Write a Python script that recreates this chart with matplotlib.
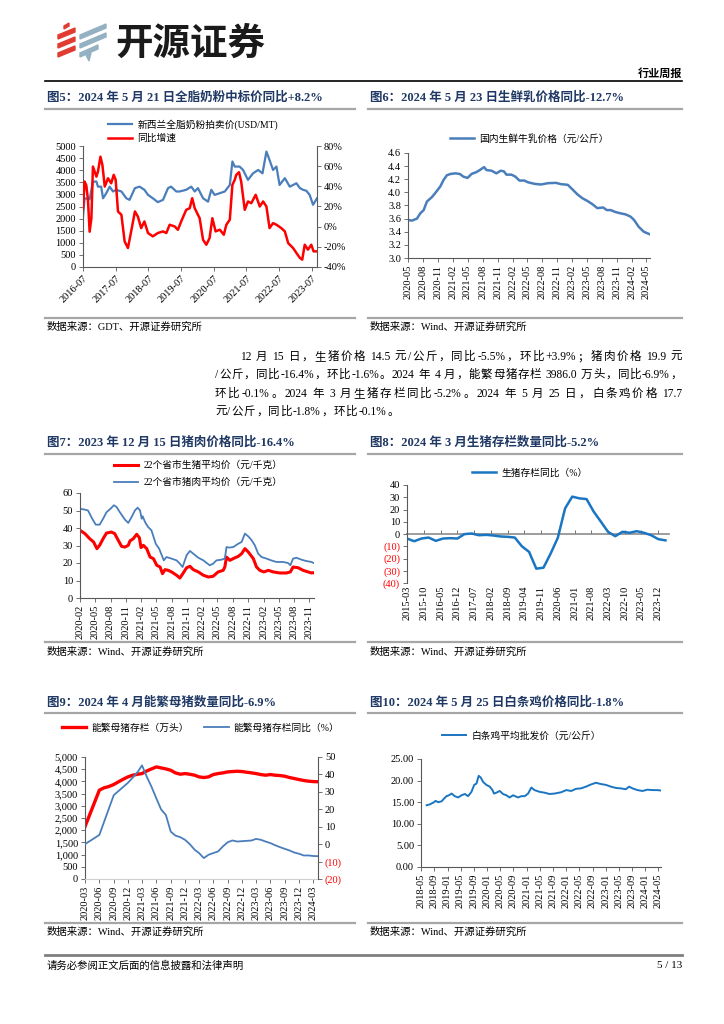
import re
import matplotlib
matplotlib.use('Agg')
import matplotlib.pyplot as plt
import matplotlib.dates as mdates
from matplotlib.lines import Line2D
from matplotlib.patches import Polygon
from matplotlib.ticker import NullFormatter
import pandas as pd

# ---------------- data ----------------
# fig5: GDT whole milk powder price (USD/MT) and YoY (%)
gdt_dates = ['2016-07-01', '2016-07-19', '2016-09-13', '2016-10-20', '2016-11-28', '2016-12-15',
             '2017-01-20', '2017-02-10', '2017-03-18', '2017-04-25', '2017-06-01', '2017-07-06',
             '2017-09-03', '2017-10-28', '2017-12-03', '2018-02-01', '2018-03-25', '2018-05-18',
             '2018-06-27', '2018-08-20', '2018-10-15', '2018-12-12', '2019-02-06', '2019-03-12',
             '2019-05-09', '2019-06-15', '2019-08-28', '2019-10-24', '2019-12-01', '2020-01-06',
             '2020-03-03', '2020-04-28', '2020-06-03', '2020-07-10', '2020-09-06', '2020-11-01',
             '2020-12-27', '2021-01-25', '2021-02-20', '2021-04-15', '2021-05-24', '2021-07-18',
             '2021-09-12', '2021-11-09', '2021-12-27', '2022-02-09', '2022-03-16', '2022-04-24',
             '2022-06-01', '2022-07-06', '2022-09-03', '2022-10-28', '2023-01-10', '2023-02-18',
             '2023-03-25', '2023-05-01', '2023-06-07', '2023-07-15', '2023-08-28']
gdt_price = [2090, 2840, 2800, 3530, 3530, 3320, 3320, 2840, 3050, 3320, 3120, 3190, 3120, 2840,
             2775, 3260, 3320, 3190, 2980, 2840, 2680, 2775, 3260, 3320, 3120, 3120, 3190, 3320,
             3120, 3260, 2840, 2700, 3190, 2980, 3050, 3120, 3390, 4360, 4150, 4150, 4010, 3600,
             3870, 4010, 3870, 4770, 4420, 4010, 4150, 3390, 3670, 3320, 3460, 3260, 3190, 3150,
             2980, 2570, 2840]
yoy_dates = ['2016-07-01', '2016-07-19', '2016-08-07', '2016-08-25', '2016-09-13', '2016-10-03',
             '2016-10-20', '2016-11-28', '2016-12-15', '2017-01-12', '2017-02-03', '2017-03-01',
             '2017-04-06', '2017-05-12', '2017-06-09', '2017-07-01', '2017-07-27', '2017-09-03',
             '2017-10-09', '2017-11-15', '2017-12-21', '2018-02-01', '2018-03-06', '2018-04-12',
             '2018-05-18', '2018-06-27', '2018-08-20', '2018-10-15', '2018-12-12', '2019-01-18',
             '2019-02-24', '2019-04-21', '2019-05-27', '2019-07-03', '2019-08-28', '2019-10-06',
             '2019-11-03', '2019-12-01', '2020-01-25', '2020-03-03', '2020-04-09', '2020-05-15',
             '2020-06-15', '2020-07-21', '2020-09-06', '2020-10-21', '2020-11-18', '2020-12-27',
             '2021-01-25', '2021-02-20', '2021-03-09', '2021-04-09', '2021-05-03', '2021-06-12',
             '2021-07-18', '2021-08-24', '2021-10-12', '2021-11-27', '2022-01-03', '2022-02-09',
             '2022-03-16', '2022-04-24', '2022-06-01', '2022-07-25', '2022-09-03', '2022-10-10',
             '2022-12-04', '2023-01-10', '2023-02-18', '2023-03-16', '2023-04-13', '2023-05-19',
             '2023-06-25', '2023-07-21', '2023-08-28']
gdt_yoy = [18, 44.7, 41, 27, -5, 8.5, 59.6, 49.6, 54.6, 69.4, 61, 39.8, 48, 43, 51.4, 46.4, 15,
           11.8, -14.6, -21.2, -4.7, 15.1, 10, -1.4, 5.2, -6.3, -9.6, -6.3, -4.7, -6.3, 1.9, 0.2,
           -3.1, 5.2, 16.7, 18.3, 28.2, 18.3, 8.4, -13, -17.9, -11.3, 8.4, -4.7, -3, -8, 1.9, 6.9,
           41.5, 46.4, 51.4, 54, 44.7, 16.7, 25, 23.3, 31.6, 20, 25, 20, -1.4, 3.5, 1.9, -1.4,
           -4.7, -16.3, -21.2, -26.1, -31, -32.7, -17.9, -22.8, -17.9, -24.5, -24.5]

# fig6: domestic raw milk price (yuan/kg)
milk_dates = ['2020-05-01', '2020-05-25', '2020-06-25', '2020-07-15', '2020-08-05', '2020-08-25',
              '2020-09-25', '2020-10-15', '2020-11-15', '2020-12-05', '2020-12-25', '2021-01-15',
              '2021-02-15', '2021-03-15', '2021-04-05', '2021-05-01', '2021-05-25', '2021-06-25',
              '2021-07-15', '2021-08-10', '2021-08-25', '2021-09-25', '2021-10-25', '2021-11-20',
              '2021-12-10', '2021-12-25', '2022-01-25', '2022-02-18', '2022-03-15', '2022-04-15',
              '2022-05-05', '2022-06-15', '2022-07-25', '2022-09-05', '2022-10-25', '2022-11-25',
              '2023-01-05', '2023-02-05', '2023-03-05', '2023-04-05', '2023-05-05', '2023-06-05',
              '2023-07-05', '2023-08-10', '2023-09-01', '2023-09-25', '2023-10-25', '2023-11-25',
              '2023-12-25', '2024-01-25', '2024-02-15', '2024-03-15', '2024-04-15', '2024-05-23']
milk_price = [3.58, 3.57, 3.60, 3.68, 3.73, 3.86, 3.93, 3.99, 4.09, 4.19, 4.26, 4.28, 4.29, 4.28,
              4.24, 4.22, 4.28, 4.31, 4.34, 4.385, 4.34, 4.33, 4.29, 4.33, 4.32, 4.27, 4.27, 4.24,
              4.18, 4.18, 4.155, 4.13, 4.12, 4.14, 4.145, 4.125, 4.115, 4.04, 3.97, 3.91, 3.87,
              3.82, 3.76, 3.77, 3.73, 3.73, 3.70, 3.68, 3.665, 3.63, 3.58, 3.475, 3.40, 3.36]

# fig7: 22-province live hog / pork average price (yuan/kg)
pork_dates = ['2020-02-01', '2020-03-01', '2020-03-20', '2020-04-10', '2020-05-05', '2020-05-28',
              '2020-06-18', '2020-07-08', '2020-08-01', '2020-08-21', '2020-09-06', '2020-09-26',
              '2020-10-26', '2020-11-15', '2020-12-05', '2020-12-25', '2021-01-10', '2021-01-24',
              '2021-02-03', '2021-02-09', '2021-02-23', '2021-03-13', '2021-04-02', '2021-04-28',
              '2021-05-18', '2021-06-07', '2021-06-15', '2021-07-01', '2021-07-31', '2021-08-30',
              '2021-09-19', '2021-10-05', '2021-10-29', '2021-11-18', '2021-12-08', '2022-01-07',
              '2022-02-06', '2022-02-26', '2022-03-16', '2022-04-05', '2022-04-25', '2022-05-25',
              '2022-06-14', '2022-06-24', '2022-07-10', '2022-08-03', '2022-09-02', '2022-09-22',
              '2022-10-12', '2022-11-01', '2022-11-21', '2022-12-10', '2022-12-30', '2023-01-19',
              '2023-02-18', '2023-03-18', '2023-04-17', '2023-05-27', '2023-06-26', '2023-07-10',
              '2023-07-26', '2023-08-15', '2023-09-14', '2023-10-14', '2023-11-13', '2023-11-28']
pork_price = [51, 50.5, 50, 46, 41.9, 41.9, 45.3, 49, 51, 53, 52, 49, 44.8, 42.9, 46.3, 50.1,
              51.6, 50.1, 45.3, 46.7, 43.4, 40.6, 38.7, 31, 28.2, 23.4, 21.5, 23.4, 22.5, 21.5,
              19.6, 17.7, 24.4, 26.9, 25.3, 23, 21.5, 20, 18.7, 19.6, 21.5, 21.9, 22.5, 29.1, 28.8,
              29.1, 31, 32, 36.8, 35.2, 33, 30.1, 25.3, 23.4, 22.5, 21.5, 20.6, 20.6, 20, 18.7,
              22.5, 23, 21.9, 21.1, 20.6, 19.9]
hog_dates = ['2020-02-01', '2020-03-01', '2020-03-30', '2020-04-22', '2020-05-12', '2020-05-28',
             '2020-06-18', '2020-07-08', '2020-08-06', '2020-08-26', '2020-09-16', '2020-10-06',
             '2020-10-26', '2020-11-15', '2020-11-25', '2020-12-15', '2021-01-04', '2021-01-20',
             '2021-01-30', '2021-02-13', '2021-03-05', '2021-03-25', '2021-04-14', '2021-05-04',
             '2021-05-24', '2021-06-07', '2021-06-22', '2021-07-12', '2021-07-31', '2021-08-30',
             '2021-09-19', '2021-10-09', '2021-10-29', '2021-11-18', '2021-12-08', '2022-01-07',
             '2022-02-06', '2022-03-08', '2022-04-05', '2022-05-05', '2022-06-04', '2022-06-14',
             '2022-06-24', '2022-07-14', '2022-08-03', '2022-09-02', '2022-09-22', '2022-10-12',
             '2022-11-01', '2022-12-01', '2022-12-20', '2023-01-09', '2023-02-02', '2023-02-28',
             '2023-03-30', '2023-05-08', '2023-06-17', '2023-07-10', '2023-07-26', '2023-08-25',
             '2023-09-24', '2023-10-24', '2023-11-13', '2023-11-28']
hog_price = [38.7, 36.8, 33.9, 32, 28.2, 30.1, 33.9, 37.1, 37.7, 36.8, 33, 29.5, 29.1, 30.1,
             32.6, 33.9, 36.4, 34.5, 28.8, 30.1, 28.2, 23.4, 22.5, 18.7, 17.7, 13.9, 16.2, 15.8,
             14.9, 13, 11.4, 14.3, 17.3, 18.1, 16.2, 14.9, 13, 12, 12.4, 14.9, 15.8, 17.7, 23.4,
             21.5, 22.5, 23.8, 25.3, 28.2, 26.3, 22.5, 17.7, 15.8, 14.9, 15.8, 14.9, 14.3, 14.3,
             14.9, 17.7, 17.3, 15.8, 14.9, 14.3, 14.5]

# fig8: hog inventory YoY (%), quarterly
herd_dates = ['2015-03', '2015-06', '2015-09', '2015-12', '2016-03', '2016-06', '2016-09', '2016-12',
              '2017-03', '2017-06', '2017-09', '2017-12', '2018-03', '2018-06', '2018-09', '2018-12',
              '2019-03', '2019-06', '2019-09', '2019-12', '2020-03', '2020-06', '2020-09', '2020-12',
              '2021-03', '2021-06', '2021-09', '2021-12', '2022-03', '2022-06', '2022-09', '2022-12',
              '2023-03', '2023-06', '2023-09', '2023-12', '2024-03']
herd_yoy = [-3.7, -5.9, -3.7, -2.9, -5.6, -3.7, -3.4, -3.7, -0.1, 0.4, -1, -0.7, -1.2, -2, -2.3,
            -2.9, -10, -14.6, -28.3, -27.5, -16, -3, 20.9, 30.5, 29.1, 28.5, 18.2, 10, 1.8, -1.8,
            1.8, 1, 2.3, 1, -1, -4.2, -5.2]

# fig9: breeding sow inventory (10k head) and YoY (%)
sow_dates = ['2020-03', '2020-06'] + [d.strftime('%Y-%m') for d in pd.date_range('2020-07-01', '2024-04-01', freq='MS')]
sow_stock = [2147, 3642, 3737, 3791, 3873, 3982, 4090, 4186,
             4254, 4294, 4321, 4430, 4512, 4593, 4553, 4512, 4457, 4349, 4294, 4321,
             4294, 4254, 4186, 4159, 4186, 4281, 4321, 4349, 4390, 4403, 4417, 4403,
             4376, 4349, 4321, 4281, 4254, 4281, 4254, 4240, 4213, 4159, 4118, 4077,
             4036, 4009, 3992, 3986]
sow_yoy_dates = ['2020-03', '2020-06', '2020-09', '2020-12'] + [d.strftime('%Y-%m') for d in pd.date_range('2021-01-01', '2024-04-01', freq='MS')]
sow_yoy = [0, 5.3, 28.1, 35.2,
           38.2, 41.4, 45.2, 38.6, 32.9, 26.2, 20, 16.7, 7.2, 4.9, 4, 2.5,
           0, -3.2, -5.1, -8, -6.1, -5.1, -4.2, -1.3, 1.1, 2.1, 1.5, 1.7,
           1.9, 2.1, 3, 2.5, 1.5, 0.6, -0.6, -1.7, -2.7, -3.6, -4.8, -5.5,
           -6.5, -6.5, -6.8, -6.9]

# fig10: broiler carcass average wholesale price (yuan/kg)
chick_dates = ['2018-06-22', '2018-07-22', '2018-08-22', '2018-09-13', '2018-10-07', '2018-11-07',
               '2018-12-02', '2018-12-23', '2019-01-14', '2019-02-08', '2019-03-08', '2019-04-09',
               '2019-05-10', '2019-06-10', '2019-07-10', '2019-08-10', '2019-09-04', '2019-09-25',
               '2019-10-16', '2019-11-04', '2019-11-25', '2019-12-26', '2020-01-26', '2020-02-20',
               '2020-03-05', '2020-03-27', '2020-04-27', '2020-05-27', '2020-06-27', '2020-07-28',
               '2020-08-28', '2020-10-13', '2020-11-13', '2020-12-14', '2021-01-14', '2021-02-13',
               '2021-03-14', '2021-04-30', '2021-06-15', '2021-07-31', '2021-09-15', '2021-11-15',
               '2022-01-01', '2022-02-16', '2022-04-01', '2022-05-17', '2022-07-02', '2022-08-17',
               '2022-10-02', '2022-11-18', '2023-01-03', '2023-02-18', '2023-04-04', '2023-05-20',
               '2023-07-05', '2023-08-05', '2023-09-05', '2023-10-21', '2023-12-06', '2024-01-21',
               '2024-03-07', '2024-04-22', '2024-05-25']
chick_price = [14.3, 14.5, 14.9, 15.3, 15, 15.2, 15.9, 16.4, 16.6, 17, 16.4, 16.1, 16.6, 16.9,
               16.4, 17.4, 19, 19.3, 21.1, 20.7, 19.7, 19, 18.6, 17.8, 17, 17.2, 17.6, 16.9, 16.6,
               16.1, 16.6, 16.1, 16.4, 16.4, 17, 18.4, 17.8, 17.4, 17.2, 16.9, 17, 17.3, 17.8,
               17.6, 18.1, 18.2, 18.6, 19.1, 19.5, 19.2, 19, 18.6, 18.3, 18.2, 18, 18.6, 18.2,
               17.8, 17.6, 17.9, 17.8, 17.8, 17.7]

para_lines = ['12 月 15 日，生猪价格 14.5 元/公斤，同比-5.5%，环比+3.9%；猪肉价格 19.9 元',
              '/公斤，同比-16.4%，环比-1.6%。2024 年 4 月，能繁母猪存栏 3986.0 万头，同比-6.9%，',
              '环比-0.1%。2024 年 3 月生猪存栏同比-5.2%。2024 年 5 月 25 日，白条鸡价格 17.7',
              '元/公斤，同比-1.8%，环比-0.1%。']

# ---------------- page ----------------
W, H = 724, 1024
NAVY = '#1F3864'
BLUE = '#4A7EBB'
BLUE2 = '#1A75C2'
RED = '#FF0000'
RULE = '#A6A6A6'
AXC = '#595959'
CJK = ['Noto Sans CJK SC', 'DejaVu Sans']

plt.rcParams['font.family'] = ['Liberation Serif', 'Noto Sans CJK SC', 'DejaVu Sans']
plt.rcParams['axes.unicode_minus'] = False

fig = plt.figure(figsize=(W / 100, H / 100), dpi=100)
renderer = fig.canvas.get_renderer()


def rect(x0, y0, x1, y1):
    return [x0 / W, 1 - y1 / H, (x1 - x0) / W, (y1 - y0) / H]


def ftext(x, y, s, **kw):
    kw.setdefault('va', 'center')
    return fig.text(x / W, 1 - y / H, s, **kw)


def hline(x0, x1, y, color, lw):
    fig.add_artist(Line2D([x0 / W, x1 / W], [1 - y / H, 1 - y / H], color=color, lw=lw))


def text_line(x0, x1, y, s, size, justify=True):
    # CJK characters one by one, latin runs kept together; spaces kept as fixed gaps
    tokens = re.findall(r'[A-Za-z0-9.%+\-/]+| |\S', s)
    space_w = size * 0.28 * 100 / 72
    arts, widths = [], []
    for tok in tokens:
        if tok == ' ':
            arts.append(None)
            widths.append(space_w)
            continue
        t = ftext(0, y, tok, fontsize=size)
        arts.append(t)
        widths.append(t.get_window_extent(renderer).width)
    n_gaps = sum(1 for a in arts if a is not None) - 1
    gap = max((x1 - x0 - sum(widths)) / n_gaps, 0) if justify else size * 0.1
    x = x0
    for t, w in zip(arts, widths):
        if t is None:
            x += w
            continue
        t.set_x(x / W)
        x += w + gap


def panel(x0, x1, y_title, y_rule, y_src_rule, y_src, title, src):
    ftext(x0 + 2, y_title, title, fontsize=9, fontweight='bold', color=NAVY)
    hline(x0, x1, y_rule, RULE, 1.6)
    hline(x0, x1, y_src_rule, RULE, 1.6)
    ftext(x0 + 2, y_src, src, fontsize=7.5, color='#000000')


def base_axes(box):
    ax = fig.add_axes(rect(*box))
    for s in ('top', 'right'):
        ax.spines[s].set_visible(False)
    for s in ('left', 'bottom'):
        ax.spines[s].set_color(AXC)
        ax.spines[s].set_linewidth(0.8)
    ax.tick_params(labelsize=7.5, length=3, width=0.6, color=AXC, pad=2)
    ax.patch.set_alpha(0)
    return ax


def right_axis(ax):
    axr = ax.twinx()
    for s in ('top', 'left', 'bottom'):
        axr.spines[s].set_visible(False)
    axr.spines['right'].set_color(AXC)
    axr.spines['right'].set_linewidth(0.8)
    axr.tick_params(labelsize=7.5, length=3, width=0.6, color=AXC, pad=2)
    return axr


def date_ticks(ax, ticks, rot=90):
    ax.set_xticks(pd.to_datetime(ticks))
    ax.xaxis.set_major_formatter(mdates.DateFormatter('%Y-%m'))
    ax.tick_params(axis='x', labelrotation=rot)


def legend_at(handles, x, y, **kw):
    opts = dict(loc='center left', bbox_to_anchor=(x / W, 1 - y / H), frameon=False,
                fontsize=7, borderaxespad=0, borderpad=0, handlelength=2.5, handletextpad=0.5)
    opts.update(kw)
    fig.legend(handles=handles, **opts)


def paren_labels(ax_axis, ticks):
    ax_axis.set_ticks(ticks)
    ax_axis.set_ticklabels(['(%d)' % abs(t) if t < 0 else '%d' % t for t in ticks])
    for t, lab in zip(ticks, ax_axis.get_ticklabels()):
        if t < 0:
            lab.set_color(RED)


# header logo
logo_red = [[(58, 35), (75, 28), (75, 32), (58, 39)],
            [(58, 44), (75, 37), (75, 41), (58, 48)],
            [(58, 53), (75, 46), (75, 50), (58, 57)],
            [(64, 26), (69, 23), (69, 26), (64, 29)]]
logo_gray = [[(80, 35), (106, 24), (106, 28), (80, 39)],
             [(80, 44), (106, 33), (106, 37), (80, 48)],
             [(80, 53), (98, 45), (98, 49), (80, 57)],
             [(86, 55), (91, 53), (89, 61)]]
for poly in logo_red:
    fig.add_artist(Polygon([(px / W, 1 - py / H) for px, py in poly], closed=True,
                           color='#E03C31', transform=fig.transFigure))
for poly in logo_gray:
    fig.add_artist(Polygon([(px / W, 1 - py / H) for px, py in poly], closed=True,
                           color='#93B1C2', transform=fig.transFigure))
ftext(115, 43, '开源证券', fontsize=27, fontweight='bold', color='#1A1A1A', family=CJK)
ftext(682, 73, '行业周报', fontsize=8, fontweight='bold', ha='right', family=CJK)
hline(45, 682, 80.5, '#000000', 1.2)

# panels
panel(45, 355, 98, 108.5, 318, 327, '图5：2024 年 5 月 21 日全脂奶粉中标价同比+8.2%', '数据来源：GDT、开源证券研究所')
panel(368, 682, 98, 108.5, 318, 327, '图6：2024 年 5 月 23 日生鲜乳价格同比-12.7%', '数据来源：Wind、开源证券研究所')
panel(45, 355, 443, 454, 642, 652, '图7：2023 年 12 月 15 日猪肉价格同比-16.4%', '数据来源：Wind、开源证券研究所')
panel(368, 682, 443, 454, 642, 652, '图8：2024 年 3 月生猪存栏数量同比-5.2%', '数据来源：Wind、开源证券研究所')
panel(45, 355, 703, 713, 923, 932, '图9：2024 年 4 月能繁母猪数量同比-6.9%', '数据来源：Wind、开源证券研究所')
panel(368, 682, 703, 713, 923, 932, '图10：2024 年 5 月 25 日白条鸡价格同比-1.8%', '数据来源：Wind、开源证券研究所')

# paragraph (justified like the report body)
text_line(240, 682, 357, para_lines[0], 8.3)
text_line(215, 682, 375, para_lines[1], 8.3)
text_line(215, 682, 394, para_lines[2], 8.3)
text_line(215, 682, 412, para_lines[3], 8.3, justify=False)

# footer
hline(45, 682, 955, '#7F7F7F', 2)
ftext(47, 966, '请务必参阅正文后面的信息披露和法律声明', fontsize=7.5, family=CJK)
ftext(682, 966, '5 / 13', fontsize=8, ha='right')

# ---------- fig5 ----------
ax5 = base_axes((83, 146, 317, 267))
ax5b = right_axis(ax5)
l1, = ax5.plot(pd.to_datetime(gdt_dates), gdt_price, color=BLUE, lw=1.6,
               label='新西兰全脂奶粉拍卖价(USD/MT)')
l2, = ax5b.plot(pd.to_datetime(yoy_dates), gdt_yoy, color=RED, lw=1.8, label='同比增速')
ax5.set_ylim(0, 5000)
ax5.set_yticks(range(0, 5001, 500))
ax5b.set_ylim(-40, 80)
ax5b.set_yticks(range(-40, 81, 20))
ax5b.set_yticklabels(['%d%%' % v for v in range(-40, 81, 20)])
ax5.set_xlim(pd.Timestamp('2016-07-01'), pd.Timestamp('2023-08-28'))
date_ticks(ax5, pd.date_range('2016-07-01', '2023-07-01', freq='12MS'), rot=45)
for lab in ax5.get_xticklabels():
    lab.set_ha('right')
    lab.set_rotation_mode('anchor')
legend_at([l1, l2], 108, 131, labelspacing=0.45)

# ---------- fig6 ----------
ax6 = base_axes((408, 153, 650, 258))
l6, = ax6.plot(pd.to_datetime(milk_dates), milk_price, color=BLUE, lw=1.8,
               label='国内生鲜牛乳价格（元/公斤）')
ax6.set_ylim(3.0, 4.6)
ax6.set_yticks([3.0, 3.2, 3.4, 3.6, 3.8, 4.0, 4.2, 4.4, 4.6])
ax6.yaxis.set_major_formatter(lambda v, p: '%.1f' % v)
ax6.set_xlim(pd.Timestamp('2020-05-01'), pd.Timestamp('2024-05-23'))
date_ticks(ax6, pd.date_range('2020-05-01', '2024-05-01', freq='3MS'))
legend_at([l6], 450, 139)

# ---------- fig7 ----------
ax7 = base_axes((80, 493, 314, 598))
l7a, = ax7.plot(pd.to_datetime(hog_dates), hog_price, color=RED, lw=2.2,
                label='22个省市生猪平均价（元/千克）')
l7b, = ax7.plot(pd.to_datetime(pork_dates), pork_price, color=BLUE, lw=1.3,
                label='22个省市猪肉平均价（元/千克）')
ax7.set_ylim(0, 60)
ax7.set_yticks(range(0, 61, 10))
ax7.set_xlim(pd.Timestamp('2020-02-01'), pd.Timestamp('2023-11-28'))
date_ticks(ax7, pd.date_range('2020-02-01', '2023-11-01', freq='3MS'))
legend_at([l7a, l7b], 114, 474, labelspacing=0.75)

# ---------- fig8 ----------
ax8 = base_axes((407, 485, 669, 583))
ax8.spines['bottom'].set_visible(False)
ax8.tick_params(axis='x', length=0)
l8, = ax8.plot(pd.to_datetime(herd_dates), herd_yoy, color=BLUE2, lw=1.8, label='生猪存栏同比（%）')
ax8.set_ylim(-40, 40)
paren_labels(ax8.yaxis, list(range(-40, 41, 10)))
ax8.set_xlim(pd.Timestamp('2015-03-01'), pd.Timestamp('2024-04-15'))
tick8 = pd.date_range('2015-03-01', '2023-12-01', freq='7MS')
date_ticks(ax8, tick8)
zero8 = ax8.secondary_xaxis(0.5)
zero8.set_xticks(tick8)
zero8.xaxis.set_major_formatter(NullFormatter())
zero8.tick_params(direction='out', length=3, width=0.6, color=AXC,
                  labeltop=False, labelbottom=False)
for s in zero8.spines.values():
    s.set_color('#8C8C8C')
    s.set_linewidth(1.2)
legend_at([l8], 472, 473)

# ---------- fig9 ----------
ax9 = base_axes((85, 757, 318, 879))
ax9.spines['bottom'].set_color('#D0D0D0')
ax9b = right_axis(ax9)
l9a, = ax9.plot(pd.to_datetime(sow_dates), sow_stock, color=RED, lw=2.4, label='能繁母猪存栏（万头）')
l9b, = ax9b.plot(pd.to_datetime(sow_yoy_dates), sow_yoy, color=BLUE, lw=1.3, label='能繁母猪存栏同比（%）')
ax9.set_ylim(0, 5000)
ax9.set_yticks(range(0, 5001, 500))
ax9.yaxis.set_major_formatter(lambda v, p: '{:,.0f}'.format(v))
ax9b.set_ylim(-20, 50)
paren_labels(ax9b.yaxis, list(range(-20, 51, 10)))
ax9.set_xlim(pd.Timestamp('2020-03-01'), pd.Timestamp('2024-04-01'))
date_ticks(ax9, pd.date_range('2020-03-01', '2024-03-01', freq='3MS'))
legend_at([l9a, l9b], 62, 728, ncol=2, columnspacing=1.6)

# ---------- fig10 ----------
ax10 = base_axes((421, 759, 661, 867))
l10, = ax10.plot(pd.to_datetime(chick_dates), chick_price, color=BLUE2, lw=1.4,
                 label='白条鸡平均批发价（元/公斤）')
ax10.set_ylim(0, 25)
ax10.set_yticks(range(0, 26, 5))
ax10.yaxis.set_major_formatter(lambda v, p: '%.2f' % v)
ax10.set_xlim(pd.Timestamp('2018-05-01'), pd.Timestamp('2024-05-25'))
date_ticks(ax10, pd.date_range('2018-05-01', '2024-05-01', freq='4MS'))
legend_at([l10], 442, 736)

fig.savefig('out.png', dpi=100)
